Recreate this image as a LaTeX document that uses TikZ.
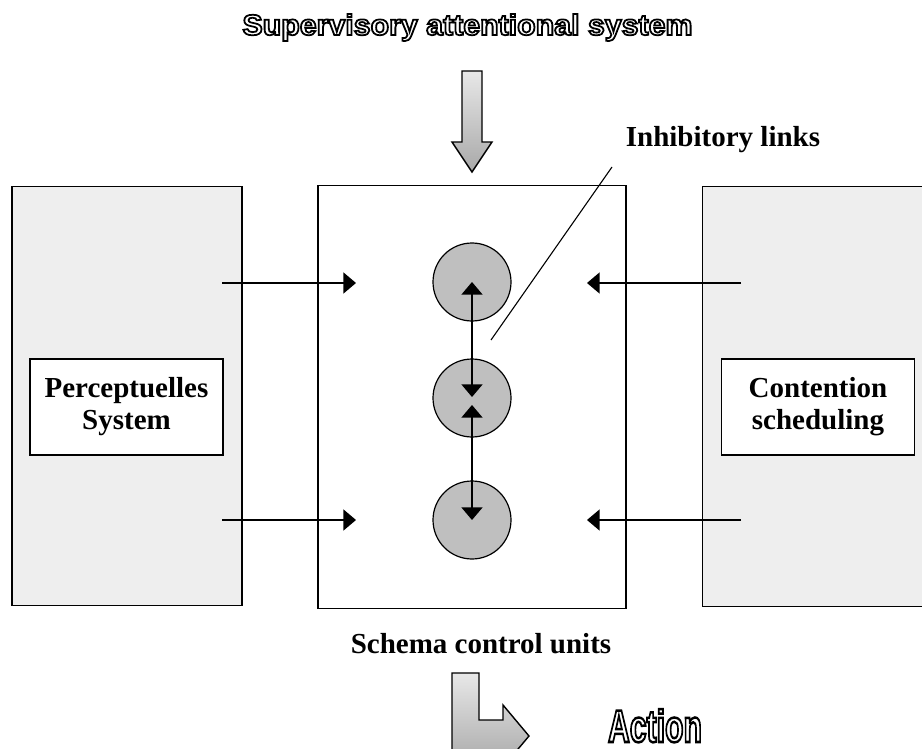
\documentclass[tikz,border=0pt]{standalone}
\usepackage{fontspec}
\setmainfont{Liberation Serif}
\setsansfont{Liberation Sans}
\usetikzlibrary{arrows.meta}
\newcommand{\outlineon}[1]{\special{pdf:literal direct 1 Tr #1 w}}
\newcommand{\outlineoff}{\special{pdf:literal direct 0 Tr}}
\newcommand{\satext}{\resizebox{225pt}{10.5pt}{Supervisory attentional system}}
\newcommand{\actiontext}{\resizebox{47pt}{16.5pt}{Action}}
\tikzset{
  system/.style={draw, line width=0.6pt, fill=gray!13, minimum width=115pt, minimum height=209.5pt},
  units/.style={draw, line width=0.6pt, fill=white, minimum width=154pt, minimum height=211.5pt},
  namebox/.style={draw, line width=0.6pt, fill=white, minimum width=96.5pt, minimum height=48pt, align=center, font=\fontsize{14.5}{16}\selectfont\bfseries},
  unit/.style={circle, draw, line width=0.6pt, fill=gray!50, minimum size=39pt, inner sep=0pt},
  boldtext/.style={font=\fontsize{14.5}{16}\selectfont\bfseries, inner sep=0pt, anchor=base},
  feed/.style={-{Triangle[length=6.3pt,width=10.5pt]}, line width=0.65pt},
  inhib/.style={{Triangle[length=6.3pt,width=10.5pt]}-{Triangle[length=6.3pt,width=10.5pt]}, line width=0.65pt},
  wordart/.style={font=\sffamily\bfseries, inner sep=0pt, anchor=base},
  bigarrow/.style={draw, line width=0.7pt, top color=gray!18, bottom color=gray!68}
}

\begin{document}
\begin{tikzpicture}[x=0.5pt, y=-0.5pt]
    \useasboundingbox (0,0) rectangle (922,749);

    \node[wordart] (sa) at (467.5,35) {\outlineon{0.6}\satext\outlineoff};

    \draw[bigarrow] (462,71) -- (482,71) -- (482,142) -- (492,142) -- (472,172) -- (452,142) -- (462,142) -- cycle;

    \node[boldtext] (inhibtext) at (723,147) {Inhibitory links};

    \node[system] (percep) at (127,396) {};
    \node[system, draw=none, minimum width=140pt] (content) at (843,396.5) {};
    \draw[line width=0.6pt] (content.north east) -- (content.north west) -- (content.south west) -- (content.south east);
    \node[units] (schema) at (472,397) {};

    \node[namebox] (percepname) at (126.5,407) {Perceptuelles\\System};
    \node[namebox] (contentname) at (818,407) {Contention\\scheduling};

    \node[unit] (u1) at (472,282) {};
    \node[unit] (u2) at (472,398) {};
    \node[unit] (u3) at (472,520) {};

    \coordinate (pa) at (222,283);
    \coordinate (pb) at (222,520);
    \coordinate (sa1) at (356,283);
    \coordinate (sa2) at (356,520);
    \coordinate (ca) at (741,283);
    \coordinate (cb) at (741,520);
    \coordinate (sc1) at (587,283);
    \coordinate (sc2) at (587,520);
    \draw[feed] (pa) -- (sa1);
    \draw[feed] (pb) -- (sa2);
    \draw[feed] (ca) -- (sc1);
    \draw[feed] (cb) -- (sc2);

    \coordinate (m1) at (472,397);
    \coordinate (m2) at (472,405);
    \draw[inhib] (u1.center) -- (m1);
    \draw[inhib] (m2) -- (u3.center);

    \coordinate (lk1) at (491,340);
    \coordinate (lk2) at (612,167);
    \draw[line width=0.55pt] (lk1) -- (lk2);

    \node[boldtext] (schematext) at (481,653) {Schema control units};

    \draw[bigarrow] (452,673) -- (479,673) -- (479,720) -- (503,720) -- (503,705) -- (529,736) -- (503,767) -- (503,752) -- (452,752) -- cycle;

    \node[wordart] (act) at (655,742) {\outlineon{0.55}\actiontext\outlineoff};
\end{tikzpicture}
\end{document}
